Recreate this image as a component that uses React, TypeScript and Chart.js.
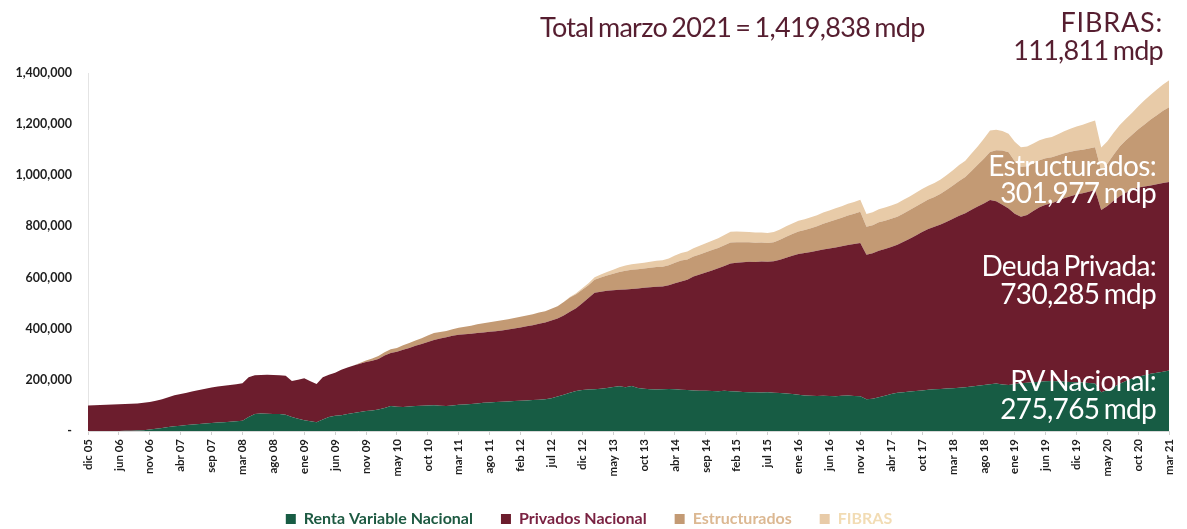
import React, { useEffect, useRef } from 'react';
import { Chart, registerables } from 'chart.js';

Chart.register(...registerables);

// Values in thousands of mdp (millones de pesos)
const tickLabels = [
  'dic 05', 'jun 06', 'nov 06', 'abr 07', 'sep 07', 'mar 08', 'ago 08', 'ene 09', 'jun 09', 'nov 09',
  'may 10', 'oct 10', 'mar 11', 'ago 11', 'feb 12', 'jul 12', 'dic 12', 'may 13', 'oct 13', 'abr 14',
  'sep 14', 'feb 15', 'jul 15', 'ene 16', 'jun 16', 'nov 16', 'abr 17', 'oct 17', 'mar 18', 'ago 18',
  'ene 19', 'jun 19', 'dic 19', 'may 20', 'oct 20', 'mar 21',
];

const rentaVariable = [
  0, 0, 0, 0, 0, 0, 1, 1, 2, 3,
  6, 9, 12, 16, 19, 21, 23, 25, 27, 29,
  31, 33, 34, 36, 38, 40, 55, 66, 68, 67,
  66, 66, 64, 55, 48, 42, 38, 34, 45, 55,
  60, 62, 66, 70, 74, 78, 80, 84, 90, 98,
  95, 94, 96, 98, 99, 100, 101, 99, 98, 100,
  103, 104, 106, 108, 110, 111, 113, 114, 115, 117,
  118, 119, 121, 122, 124, 128, 135, 142, 150, 156,
  160, 162, 163, 165, 168, 172, 175, 171, 176, 168,
  165, 163, 162, 163, 164, 163, 161, 160, 158, 157,
  157, 156, 155, 157, 155, 154, 153, 152, 152, 151,
  152, 150, 149, 147, 145, 142, 139, 138, 137, 138,
  137, 136, 138, 139, 137, 136, 124, 126, 132, 138,
  145, 150, 152, 154, 156, 158, 161, 163, 164, 166,
  167, 169, 171, 174, 177, 180, 183, 186, 182, 180,
  184, 187, 189, 191, 193, 195, 196, 195, 193, 192,
  191, 190, 188, 186, 152, 160, 172, 185, 196, 205,
  212, 218, 224, 228, 232, 237,
];

const privadosNacional = [
  100, 101, 102, 103, 104, 105, 105, 106, 106, 107,
  107, 109, 112, 116, 121, 124, 127, 130, 133, 136,
  139, 141, 143, 144, 145, 147, 155, 152, 151, 153,
  153, 152, 152, 141, 152, 164, 157, 150, 165, 165,
  168, 178, 182, 186, 189, 192, 195, 198, 205, 207,
  215, 224, 229, 235, 241, 248, 255, 263, 269, 272,
  273, 274, 274, 275, 275, 277, 277, 279, 282, 284,
  287, 291, 293, 297, 300, 304, 305, 310, 316, 324,
  340, 358, 378, 380, 380, 378, 377, 382, 379, 389,
  395, 399, 402, 402, 406, 415, 424, 431, 446, 455,
  463, 472, 481, 488, 500, 504, 507, 510, 509, 512,
  510, 514, 521, 531, 540, 550, 557, 562, 568, 572,
  577, 582, 584, 588, 594, 599, 565, 569, 573, 574,
  575, 578, 588, 598, 609, 620, 629, 636, 644, 652,
  663, 673, 681, 691, 701, 710, 720, 712, 703, 690,
  666, 651, 656, 669, 682, 690, 695, 705, 717, 726,
  734, 740, 748, 756, 712, 720, 728, 733, 736, 740,
  740, 738, 736, 737, 738, 737,
];

const estructurados = [
  0, 0, 0, 0, 0, 0, 0, 0, 0, 0,
  0, 0, 0, 0, 0, 0, 0, 0, 0, 0,
  0, 0, 0, 0, 0, 0, 0, 0, 0, 0,
  0, 0, 0, 0, 0, 0, 0, 0, 0, 0,
  0, 0, 0, 0, 3, 6, 9, 11, 13, 15,
  15, 17, 19, 21, 23, 25, 27, 25, 24, 26,
  28, 30, 32, 34, 36, 37, 39, 40, 40, 41,
  42, 42, 43, 44, 44, 46, 48, 52, 56, 55,
  52, 50, 50, 55, 60, 65, 70, 74, 76, 76,
  75, 76, 77, 77, 78, 80, 82, 80, 78, 78,
  79, 80, 80, 81, 82, 80, 78, 76, 75, 74,
  73, 74, 78, 82, 85, 88, 90, 93, 96, 100,
  104, 108, 112, 116, 119, 122, 110, 110, 111, 110,
  110, 110, 111, 112, 113, 114, 115, 116, 120, 125,
  130, 136, 141, 152, 163, 175, 188, 200, 212, 220,
  205, 194, 190, 186, 184, 182, 180, 178, 176, 174,
  172, 170, 169, 168, 155, 165, 180, 195, 205, 214,
  228, 243, 258, 270, 282, 292,
];

const fibras = [
  0, 0, 0, 0, 0, 0, 0, 0, 0, 0,
  0, 0, 0, 0, 0, 0, 0, 0, 0, 0,
  0, 0, 0, 0, 0, 0, 0, 0, 0, 0,
  0, 0, 0, 0, 0, 0, 0, 0, 0, 0,
  0, 0, 0, 0, 0, 0, 0, 0, 0, 0,
  0, 0, 0, 0, 0, 0, 0, 0, 0, 0,
  0, 0, 0, 0, 0, 0, 0, 0, 0, 0,
  0, 0, 0, 0, 0, 0, 0, 0, 2, 4,
  6, 8, 10, 12, 14, 16, 18, 20, 21, 22,
  23, 24, 25, 26, 27, 28, 29, 31, 33, 34,
  35, 36, 38, 40, 42, 42, 41, 40, 40, 39,
  39, 40, 40, 41, 41, 42, 42, 43, 43, 44,
  44, 45, 45, 46, 46, 47, 50, 50, 51, 52,
  52, 53, 53, 53, 54, 54, 54, 55, 56, 58,
  60, 62, 64, 68, 72, 78, 84, 80, 76, 72,
  76, 78, 78, 78, 78, 78, 79, 82, 86, 90,
  94, 98, 101, 104, 90, 88, 86, 84, 84, 86,
  90, 94, 97, 100, 103, 106,
];

const seriesNames = ['Renta Variable Nacional', 'Privados Nacional', 'Estructurados', 'FIBRAS'];
const seriesColors = ['#175c44', '#6c1d2d', '#c39a74', '#e8cba8'];
const legendTextColors = ['#1d5a42', '#7a2242', '#dcb892', '#f2dcb4'];

const TICK_EVERY = 5;
const categories = rentaVariable.map((_, i) => (i % TICK_EVERY === 0 ? tickLabels[i / TICK_EVERY] : ''));

const textFont = 'Lato, "Open Sans", sans-serif';

export default function App() {
  const canvasRef = useRef<HTMLCanvasElement | null>(null);

  useEffect(() => {
    const canvas = canvasRef.current;
    if (!canvas) return;
    const seriesData = [rentaVariable, privadosNacional, estructurados, fibras];
    const chart = new Chart(canvas, {
      type: 'line',
      data: {
        labels: categories,
        datasets: seriesData.map((d, i) => ({
          label: seriesNames[i],
          data: d,
          backgroundColor: seriesColors[i],
          borderColor: seriesColors[i],
          borderWidth: 0,
          pointRadius: 0,
          fill: i === 0 ? 'origin' : '-1',
          tension: 0,
        })),
      },
      options: {
        animation: false,
        responsive: true,
        maintainAspectRatio: false,
        layout: { padding: { top: 73, right: 9, left: 0, bottom: -8 } },
        plugins: {
          tooltip: { enabled: false },
          legend: {
            position: 'bottom',
            labels: {
              boxWidth: 10,
              boxHeight: 10,
              padding: 28,
              font: { family: textFont, size: 16, weight: 'bold' },
              generateLabels: (ch: any) =>
                ch.data.datasets.map((ds: any, i: number) => ({
                  text: ds.label,
                  fillStyle: seriesColors[i],
                  strokeStyle: seriesColors[i],
                  lineWidth: 0,
                  fontColor: legendTextColors[i],
                  hidden: false,
                  datasetIndex: i,
                })),
            },
          },
        },
        scales: {
          x: {
            type: 'category',
            offset: false,
            grid: { display: true, drawOnChartArea: false, drawTicks: true, tickLength: 4, color: '#cfcfcf' },
            border: { display: true, color: '#d8d8d8' },
            ticks: {
              autoSkip: false,
              maxRotation: 90,
              minRotation: 90,
              padding: 4,
              color: '#1e1e1e',
              font: { family: textFont, size: 11.5, weight: 'bold' },
              callback: (v: any) => (categories[v as number] ? categories[v as number] : null),
            },
            afterFit: (scale: any) => {
              scale.height = 52;
            },
          },
          y: {
            stacked: true,
            min: 0,
            max: 1400,
            grid: { display: false },
            border: { display: true, color: '#e4e4e4' },
            ticks: {
              stepSize: 200,
              padding: 8,
              color: '#1e1e1e',
              font: { family: textFont, size: 12.5, weight: 'bold' },
              callback: (v: any) => (Number(v) === 0 ? '-' : (Number(v) * 1000).toLocaleString('en-US')),
            },
            afterFit: (scale: any) => {
              scale.width = 88;
            },
          },
        },
      },
    });
    return () => chart.destroy();
  }, []);

  const maroon = '#561e30';
  const bigText: React.CSSProperties = {
    position: 'absolute',
    fontFamily: textFont,
    fontSize: 27,
    lineHeight: '30px',
    whiteSpace: 'nowrap',
    letterSpacing: '-0.7px',
    wordSpacing: '-2px',
  };
  const inner: React.CSSProperties = { ...bigText, fontSize: 28, color: '#fff', textAlign: 'right', right: 1187 - 1156 };

  return (
    <div style={{ position: 'absolute', left: 0, top: 0, width: 1187, height: 529, background: '#fff' }}>
      <canvas ref={canvasRef} />
      <div style={{ ...bigText, left: 540, top: 12, color: maroon }}>Total marzo 2021 = 1,419,838 mdp</div>
      <div style={{ ...bigText, right: 1187 - 1163, top: 7, color: maroon, textAlign: 'right', letterSpacing: '0.8px' }}>FIBRAS:</div>
      <div style={{ ...bigText, right: 1187 - 1163, top: 35, color: maroon, textAlign: 'right' }}>111,811 mdp</div>
      <div style={{ ...inner, top: 150 }}>Estructurados:</div>
      <div style={{ ...inner, top: 177 }}>301,977 mdp</div>
      <div style={{ ...inner, top: 250 }}>Deuda Privada:</div>
      <div style={{ ...inner, top: 278 }}>730,285 mdp</div>
      <div style={{ ...inner, top: 365 }}>RV Nacional:</div>
      <div style={{ ...inner, top: 393 }}>275,765 mdp</div>
    </div>
  );
}
